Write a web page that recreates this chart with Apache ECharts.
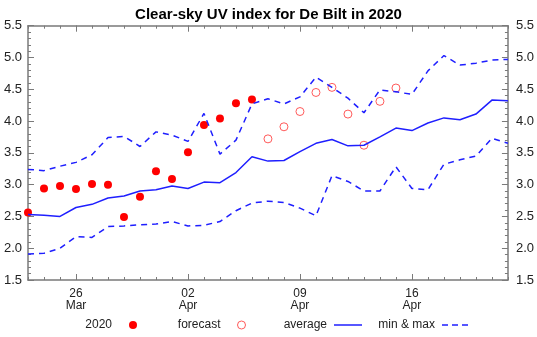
<!DOCTYPE html>
<html><head><meta charset="utf-8">
<script src="https://cdn.jsdelivr.net/npm/echarts@6/dist/echarts.min.js"></script>
<style>html,body{margin:0;padding:0;background:#fff}#c{width:537px;height:337px}</style>
</head><body><div id="c"></div>
<script>
const dates = ['23 Mar','24 Mar','25 Mar','26 Mar','27 Mar','28 Mar','29 Mar','30 Mar','31 Mar',
  '01 Apr','02 Apr','03 Apr','04 Apr','05 Apr','06 Apr','07 Apr','08 Apr','09 Apr','10 Apr','11 Apr',
  '12 Apr','13 Apr','14 Apr','15 Apr','16 Apr','17 Apr','18 Apr','19 Apr','20 Apr','21 Apr','22 Apr'];
const labelDays = ['26 Mar','02 Apr','09 Apr','16 Apr'];
const yTicks = [1.5, 5.5, 0.5];
// 2020 observations: 23 Mar - 06 Apr
const obs2020 = [2.56,2.94,2.98,2.93,3.01,3.00,2.49,2.81,3.21,3.09,3.51,3.94,4.04,4.28,4.34];
// forecast: 07 Apr - 15 Apr
const forecast = [3.72,3.91,4.15,4.45,4.53,4.11,3.62,4.31,4.52];
const average = [2.53,2.52,2.50,2.64,2.69,2.79,2.82,2.90,2.92,2.98,2.94,3.04,3.03,3.19,3.44,
  3.37,3.38,3.52,3.65,3.71,3.61,3.62,3.75,3.89,3.85,3.97,4.05,4.02,4.11,4.33,4.32];
const maxUV = [3.24,3.22,3.29,3.35,3.47,3.74,3.76,3.60,3.83,3.78,3.68,4.12,3.48,3.70,4.27,
  4.35,4.27,4.38,4.69,4.53,4.36,4.13,4.49,4.46,4.42,4.79,5.03,4.88,4.91,4.96,4.97];
const minUV = [1.91,1.92,2.00,2.18,2.17,2.34,2.35,2.37,2.38,2.42,2.35,2.36,2.42,2.59,2.71,
  2.74,2.72,2.63,2.51,3.14,3.05,2.90,2.90,3.28,2.94,2.92,3.32,3.39,3.45,3.73,3.65];

const obsData = dates.map((d,i) => i < obs2020.length ? obs2020[i] : null);
const fcStart = obs2020.length;
const fcData = dates.map((d,i) => (i >= fcStart && i < fcStart + forecast.length) ? forecast[i-fcStart] : null);

const FONT = 'Liberation Sans, Arial, sans-serif';
const GRAY = '#7a7a7a';
const BLUE = '#1f1fff';
const FC_RED = '#ff5a5a';
const isMajor = (i, v) => labelDays.indexOf(v !== undefined ? v : dates[i]) >= 0;

function xAx(pos, major, showLine, showLabel) {
  return {
    type: 'category', data: dates, boundaryGap: false, position: pos,
    axisLine: {show: showLine, lineStyle: {color: GRAY, width: 1.5}},
    axisTick: {show: true, inside: true, length: major ? 6 : 3,
      interval: major ? ((i, v) => isMajor(i, v)) : 0,
      lineStyle: {color: GRAY, width: 1}},
    axisLabel: {show: showLabel, interval: (i, v) => isMajor(i, v),
      formatter: v => v.split(' ').join('\n'),
      color: '#222', fontFamily: FONT, fontSize: 12, lineHeight: 12, margin: 8},
    splitLine: {show: false}
  };
}
function yAx(pos) {
  return {
    type: 'value', position: pos, min: yTicks[0], max: yTicks[1], interval: yTicks[2],
    axisLine: {show: true, lineStyle: {color: GRAY, width: 1.5}},
    axisTick: {show: true, inside: true, length: 6, lineStyle: {color: GRAY}},
    minorTick: {show: true, splitNumber: 5, length: 3, lineStyle: {color: GRAY}},
    axisLabel: {formatter: v => v.toFixed(1), color: '#222', fontFamily: FONT, fontSize: 13,
      margin: pos === 'left' ? 6 : 8},
    splitLine: {show: false}
  };
}
function leg(item, right, w, h) {
  return {
    data: [item], right: right, top: 319, padding: 0, align: 'right',
    itemWidth: w, itemHeight: h, selectedMode: false, height: 14,
    textStyle: {fontFamily: FONT, fontSize: 12, color: '#222', padding: [0, 2, 0, 0]}
  };
}
const solidIcon = 'path://M0,0H28V1.5H0Z';
const dashIcon = 'path://M0,0H6V1.5H0Z M10,0H16V1.5H10Z M20,0H26V1.5H20Z';

const chart = echarts.init(document.getElementById('c'), null, {renderer: 'canvas'});
chart.setOption({
  animation: false,
  backgroundColor: '#fff',
  title: {text: 'Clear-sky UV index for De Bilt in 2020', left: 'center', top: 2,
    textStyle: {fontFamily: FONT, fontSize: 15, fontWeight: 'bold', color: '#000'}},
  grid: {left: 28, right: 28.5, top: 25.7, bottom: 57},
  xAxis: [xAx('bottom', false, true, true), xAx('bottom', true, false, false),
          xAx('top', false, true, false), xAx('top', true, false, false)],
  yAxis: [yAx('left'), yAx('right')],
  legend: [
    leg({name: '2020', icon: 'circle', itemStyle: {color: '#ff0000', opacity: 1}}, 400, 28, 8),
    leg({name: 'forecast', icon: 'circle',
      itemStyle: {color: '#ffffff', borderColor: FC_RED, borderWidth: 1, opacity: 1}}, 291, 28, 8),
    leg({name: 'average', icon: solidIcon}, 175, 28, 1.5),
    leg({name: 'min & max', icon: dashIcon}, 69, 26, 1.5)
  ],
  series: [
    {name: 'min & max', type: 'line', data: maxUV, symbol: 'none',
      lineStyle: {color: BLUE, width: 1.5, type: [6, 5]}, itemStyle: {color: BLUE}},
    {name: 'min & max', type: 'line', data: minUV, symbol: 'none',
      lineStyle: {color: BLUE, width: 1.5, type: [6, 5]}, itemStyle: {color: BLUE}},
    {name: 'average', type: 'line', data: average, symbol: 'none',
      lineStyle: {color: BLUE, width: 1.5}, itemStyle: {color: BLUE}},
    {name: '2020', type: 'scatter', data: obsData, symbol: 'circle', symbolSize: 8,
      itemStyle: {color: '#ff0000', opacity: 1}},
    {name: 'forecast', type: 'scatter', data: fcData, symbol: 'circle', symbolSize: 8,
      itemStyle: {color: '#ffffff', borderColor: FC_RED, borderWidth: 1, opacity: 1}}
  ]
});
</script></body></html>
